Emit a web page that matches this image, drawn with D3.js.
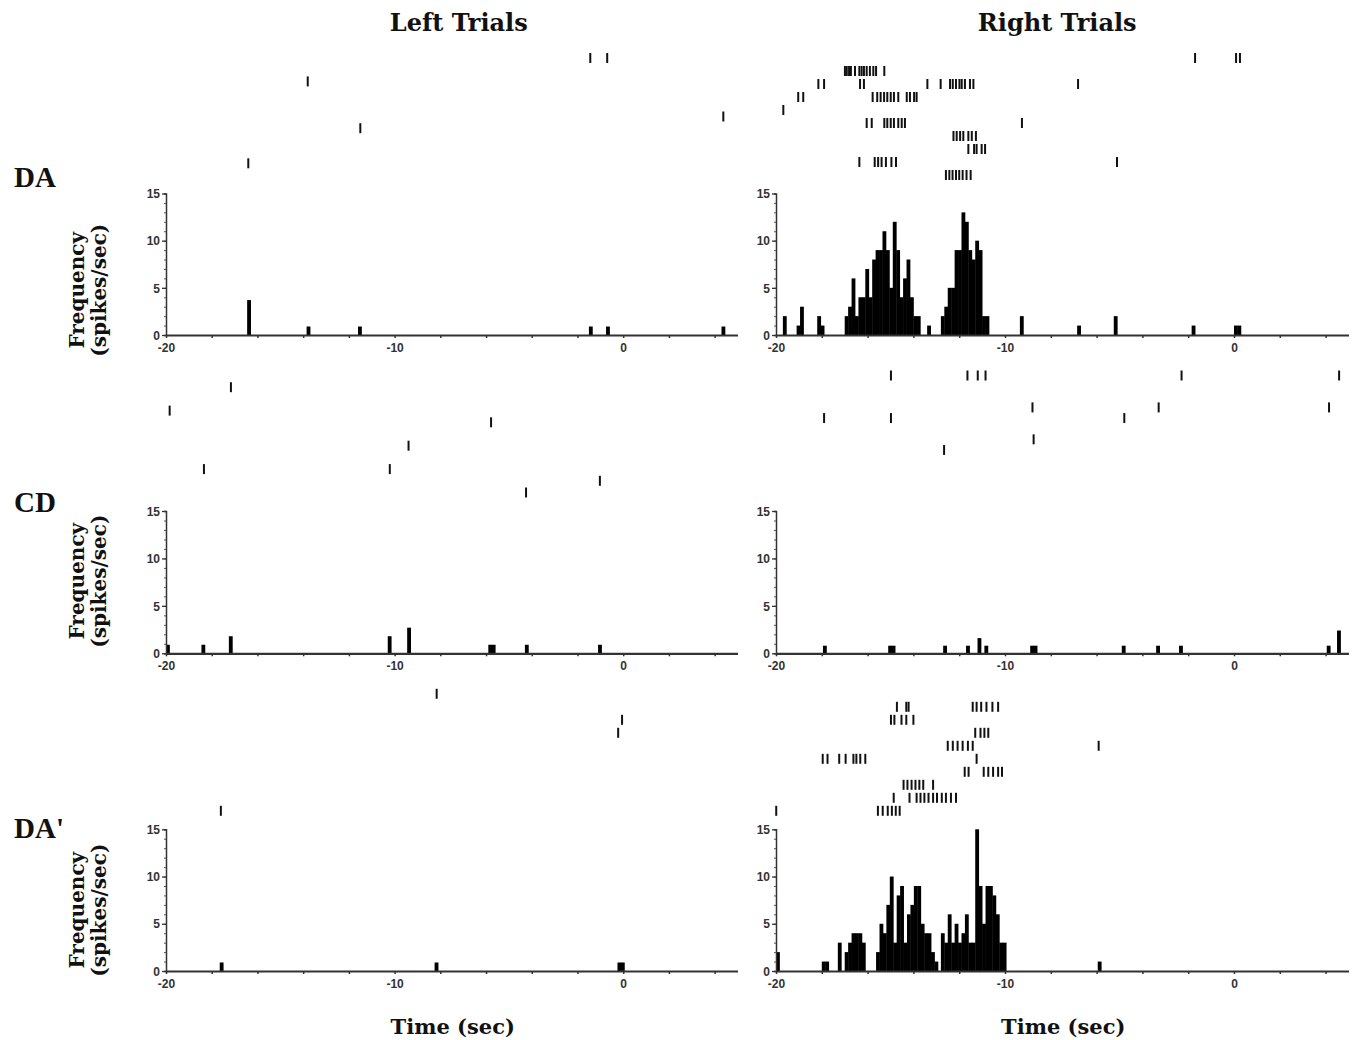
<!DOCTYPE html>
<html>
<head>
<meta charset="utf-8">
<script src="https://cdn.jsdelivr.net/npm/d3@7/dist/d3.min.js"></script>
<style>
  body { margin: 0; background: #fff; }
  .serif { font-family: "DejaVu Serif", serif; font-weight: bold; fill: #111; }
  .rowlab { font-family: "Liberation Serif", serif; font-weight: bold; fill: #111; }
  .tick text { font-family: "Liberation Sans Narrow", "Liberation Sans", Arial, sans-serif; font-weight: bold; font-size: 12px; fill: #333; }
</style>
</head>
<body>
<svg id="chart" width="1358" height="1040"></svg>
<script>
// ---- data ----
const rowNames = ["DA", "CD", "DA'"];
const sideNames = ["Left Trials", "Right Trials"];
const xLabelTicks = [-20, -10, 0];
const xMinorTicks = [-20, -18, -16, -14, -12, -10, -8, -6, -4, -2, 0, 2, 4];
const yLabelTicks = [0, 5, 10, 15];
const yMinorTicks = [0, 1, 2, 3, 4, 5, 6, 7, 8, 9, 10, 11, 12, 13, 14, 15];
const binWidth = 0.15; // sec

// raster: one array of spike times (sec) per trial
const rasterDALeft = [
  [-1.44, -0.7], [], [-13.8], [], [], [4.38], [-11.5], [], [], [-16.4], []
];
const rasterDARight = [
  [-1.70, 0.09, 0.26],
  [-16.99, -16.91, -16.81, -16.73, -16.55, -16.36, -16.26, -16.16, -16.04, -15.90, -15.75, -15.63, -15.27],
  [-18.15, -17.90, -16.33, -16.16, -13.39, -12.81, -12.40, -12.28, -12.14, -11.99, -11.89, -11.75, -11.53, -11.38, -6.81],
  [-19.03, -18.81, -15.78, -15.58, -15.43, -15.28, -15.14, -14.99, -14.85, -14.66, -14.29, -14.15, -13.97, -13.86],
  [-19.68],
  [-16.04, -15.82, -15.27, -15.14, -14.99, -14.85, -14.66, -14.51, -14.37, -9.26],
  [-12.25, -12.11, -11.96, -11.82, -11.60, -11.45, -11.27],
  [-11.60, -11.35, -11.24, -11.02, -10.87],
  [-16.36, -15.69, -15.54, -15.39, -15.20, -14.96, -14.76, -5.11],
  [-12.58, -12.43, -12.29, -12.14, -12.00, -11.85, -11.68, -11.50]
];
const rasterCDLeft = [
  [], [-17.16], [], [-19.84], [-5.78], [], [-9.39], [], [-18.34, -10.21], [-1.02], [-4.25]
];
const rasterCDRight = [
  [-14.98, -11.64, -11.19, -10.85, -2.29, 4.59], [], [], [-8.80, -3.29, 4.15],
  [-17.90, -14.98, -4.79], [], [-8.75], [-12.66], [], [], [], []
];
const rasterDA2Left = [
  [-8.16], [], [-0.05], [-0.22], [], [], [], [], [], [-17.6]
];
const rasterDA2Right = [
  [],
  [-14.72, -14.31, -14.21, -11.41, -11.24, -11.04, -10.81, -10.55, -10.30],
  [-14.98, -14.83, -14.52, -14.31, -14.00],
  [-11.30, -11.07, -10.90, -10.73],
  [-12.50, -12.28, -12.07, -11.85, -11.62, -11.41, -5.91],
  [-17.96, -17.75, -17.24, -16.96, -16.62, -16.49, -16.32, -16.10, -11.24],
  [-11.76, -11.59, -10.93, -10.73, -10.52, -10.30, -10.13],
  [-14.43, -14.26, -14.08, -13.91, -13.74, -13.57, -13.14],
  [-14.86, -14.17, -13.86, -13.69, -13.52, -13.34, -13.14, -12.97, -12.76, -12.58, -12.36, -12.14],
  [-19.99, -15.55, -15.34, -15.12, -14.94, -14.77, -14.60]
];

// histograms: [start time of first bin, [spikes/sec per consecutive bin]]
const histDALeft = [
  [-16.45, [3.7]], [-13.85, [0.9]], [-11.6, [0.9]], [-1.5, [0.9]], [-0.75, [0.9]], [4.3, [0.9]]
];
const histDARight = [
  [-19.7, [2]], [-19.1, [1, 3]], [-18.2, [2, 1]],
  [-17.0, [2, 3, 6, 2, 4, 4, 7, 4, 8, 9, 9, 11, 9, 5, 12, 9, 4, 6, 8, 4, 2, 2]],
  [-13.4, [1]],
  [-12.8, [2, 3, 5, 5, 9, 9, 13, 12, 9, 8, 10, 9, 2, 2]],
  [-9.35, [2]], [-6.85, [1]], [-5.25, [2]], [-1.85, [1]], [0.0, [1, 1]]
];
const histCDLeft = [
  [-20.0, [0.9]], [-18.45, [0.9]], [-17.25, [1.8]], [-10.3, [1.8]], [-9.45, [2.7]],
  [-5.9, [0.9, 0.9]], [-4.3, [0.9]], [-1.1, [0.9]]
];
const histCDRight = [
  [-17.95, [0.8]], [-15.1, [0.8, 0.8]], [-12.7, [0.8]], [-11.7, [0.8]], [-11.2, [1.6]],
  [-10.9, [0.8]], [-8.9, [0.8, 0.8]], [-4.9, [0.8]], [-3.4, [0.8]], [-2.4, [0.8]],
  [4.05, [0.8]], [4.5, [2.4]]
];
const histDA2Left = [
  [-17.65, [0.9]], [-8.25, [0.9]], [-0.25, [0.9, 0.9]]
];
const histDA2Right = [
  [-20.0, [2]], [-18.0, [1, 1]], [-17.3, [3]], [-17.0, [2]], [-16.85, [3, 4, 4, 4, 3]],
  [-15.63, [2, 5, 4, 7, 10, 3, 8, 9, 3, 6, 7, 9, 9, 5, 4, 4, 2, 1]],
  [-12.8, [4, 3, 6, 3, 5, 3, 4, 6, 3, 3, 15, 9, 5, 9, 9, 8, 6, 3, 3]],
  [-5.95, [1]]
];

const panels = [
  [rasterDALeft, histDALeft], [rasterDARight, histDARight],
  [rasterCDLeft, histCDLeft], [rasterCDRight, histCDRight],
  [rasterDA2Left, histDA2Left], [rasterDA2Right, histDA2Right]
];

// ---- layout ----
const svg = d3.select('#chart');
const cols = [{x0: 166, x1: 737.5}, {x0: 776, x1: 1348.5}];
const rows = [{top: 193.5, bottom: 335}, {top: 511, bottom: 653.3}, {top: 829.3, bottom: 971}];
const yTitleShift = [26, -1, 10];

const tickLabel = d => xLabelTicks.includes(d) ? d : '';

panels.forEach((p, i) => {
    const [raster, hist] = p;
    const c = cols[i % 2];
    const r = rows[Math.floor(i / 2)];

    const x = d3.scaleLinear().domain([-20, 5]).range([c.x0, c.x1]);
    const y = d3.scaleLinear().domain([0, 15]).range([r.bottom, r.top]);
    const trialY = d3.scalePoint()
        .domain(d3.range(raster.length))
        .range([r.top - 135.5, r.top - 18.5]);

    const g = svg.append('g');

    // raster ticks
    const spikes = raster.flatMap((times, trial) => times.map(t => ({trial, t})));
    g.append('g').selectAll('line').data(spikes)
        .enter().append('line')
            .attr('x1', d => x(d.t)).attr('x2', d => x(d.t))
            .attr('y1', d => trialY(d.trial) - 5)
            .attr('y2', d => trialY(d.trial) + 5)
            .attr('stroke', '#111')
            .attr('stroke-width', 2);

    // histogram bars
    const bins = hist.flatMap(([start, vals]) =>
        vals.map((v, k) => ({t: start + k * binWidth, v})));
    g.append('g').selectAll('rect').data(bins)
        .enter().append('rect')
            .attr('x', d => x(d.t))
            .attr('width', d => x(d.t + binWidth) - x(d.t) + 0.4)
            .attr('y', d => y(d.v))
            .attr('height', d => y(0) - y(d.v))
            .attr('fill', '#000');

    // x axis
    const xAxisG = g.append('g')
        .attr('transform', `translate(0,${r.bottom})`)
        .call(d3.axisBottom(x).tickValues(xMinorTicks).tickSizeInner(3).tickSizeOuter(0)
            .tickFormat(tickLabel).tickPadding(5));
    xAxisG.select('.domain').attr('stroke', '#333').attr('stroke-width', 2.2);
    xAxisG.selectAll('.tick line').attr('stroke', '#333').attr('stroke-width', 1.5);

    // y axis
    const yMinorG = g.append('g')
        .attr('transform', `translate(${c.x0},0)`)
        .call(d3.axisLeft(y).tickValues(yMinorTicks).tickSize(2).tickFormat(''));
    yMinorG.select('.domain').attr('stroke', '#333').attr('stroke-width', 1.5);
    yMinorG.selectAll('.tick line').attr('stroke', '#555');
    const yAxisG = g.append('g')
        .attr('transform', `translate(${c.x0},0)`)
        .call(d3.axisLeft(y).tickValues(yLabelTicks).tickSize(4).tickPadding(2));
    yAxisG.select('.domain').remove();
    yAxisG.selectAll('.tick line').attr('stroke', '#333').attr('stroke-width', 1.3);
    yAxisG.selectAll('.tick text').attr('dy', '0.35em');

    // y axis title, left column
    if (i % 2 === 0) {
        const cy = (r.top + r.bottom) / 2 + yTitleShift[Math.floor(i / 2)];
        const lab = g.append('text')
            .attr('class', 'serif')
            .attr('transform', `translate(89,${cy}) rotate(-90)`)
            .attr('text-anchor', 'middle')
            .style('font-size', '20px');
        lab.append('tspan').attr('x', 0).attr('dy', '-0.25em').text('Frequency');
        lab.append('tspan').attr('x', 0).attr('dy', '1.1em').text('(spikes/sec)');
    }
});

// row labels
const rowLabelY = [187, 512, 838];
rowNames.forEach((name, k) => {
    svg.append('text')
        .attr('class', 'rowlab')
        .attr('x', 14)
        .attr('y', rowLabelY[k])
        .style('font-size', '29px')
        .text(name);
});

// column titles and x axis titles
sideNames.forEach((name, k) => {
    const cx = (cols[k].x0 + cols[k].x1) / 2;
    svg.append('text')
        .attr('class', 'serif')
        .attr('x', cx + (k === 0 ? 7 : -5))
        .attr('y', 31)
        .attr('text-anchor', 'middle')
        .style('font-size', '24px')
        .text(name);
    svg.append('text')
        .attr('class', 'serif')
        .attr('x', cx + 1)
        .attr('y', 1034)
        .attr('text-anchor', 'middle')
        .style('font-size', '21px')
        .text('Time (sec)');
});
</script>
</body>
</html>
